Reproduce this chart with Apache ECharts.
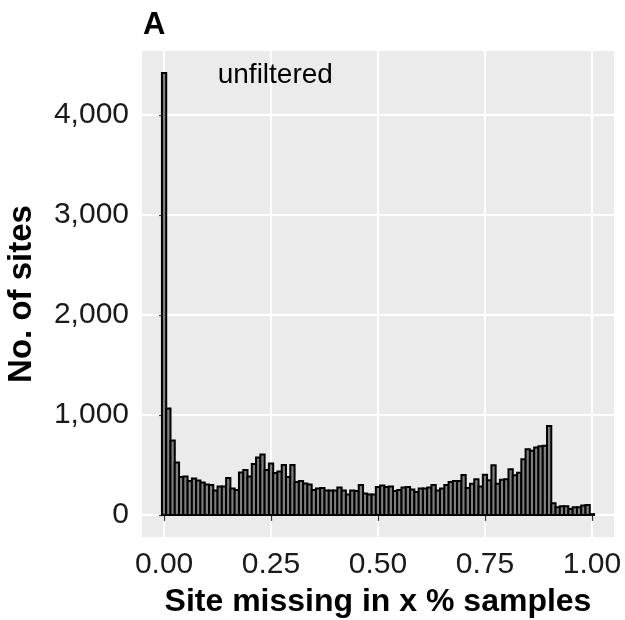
<!DOCTYPE html>
<html>
<head>
<meta charset="utf-8">
<script src="https://cdn.jsdelivr.net/npm/echarts@6/dist/echarts.min.js"></script>
<style>
  html, body { margin: 0; padding: 0; background: #fff; }
  #chart { width: 625px; height: 620px; }
</style>
</head>
<body>
<div id="chart"></div>
<script>
// histogram: share of samples in which a site is missing, bins of 0.01 centred on 0..1
var binWidth = 0.01;
var siteCounts = [
  4420, 1065, 745, 525, 380, 385, 340, 365, 345, 325,
  305, 300, 245, 285, 285, 370, 265, 250, 425, 450,
  385, 510, 575, 605, 450, 515, 420, 435, 500, 380,
  500, 330, 340, 315, 305, 250, 265, 270, 245, 245,
  245, 275, 245, 205, 245, 240, 300, 215, 205, 205,
  280, 295, 280, 285, 240, 250, 275, 280, 255, 228,
  265, 265, 275, 300, 245, 265, 300, 330, 340, 340,
  400, 268, 312, 356, 285, 403, 346, 497, 312, 352,
  356, 456, 396, 423, 557, 658, 641, 675, 688, 691,
  889, 117, 77, 87, 87, 60, 77, 77, 94, 100,
  8
];
var xTicks = [0, 0.25, 0.5, 0.75, 1];
var yTicks = [0, 1000, 2000, 3000, 4000];
var panelNote = { text: 'unfiltered', x: 0.26, y: 4400 };

var bars = siteCounts.map(function (n, i) { return [i * binWidth, n]; });

var font = 'Liberation Sans, Arial, Helvetica, sans-serif';
var myChart = echarts.init(document.getElementById('chart'));

var option = {
  backgroundColor: '#ffffff',
  animation: false,
  title: {
    text: 'A',
    left: 138,
    top: 5,
    textStyle: { fontFamily: font, fontSize: 31, fontWeight: 'bold', color: '#000' }
  },
  grid: {
    left: 142,
    right: 11,
    top: 51,
    bottom: 83,
    outerBoundsMode: 'none',
    containLabel: false,
    show: true,
    backgroundColor: '#ebebeb',
    borderWidth: 0
  },
  xAxis: {
    type: 'value',
    min: -0.0516,
    max: 1.0516,
    name: 'Site missing in x % samples',
    nameLocation: 'middle',
    nameGap: 49,
    nameTextStyle: { fontFamily: font, fontSize: 32, fontWeight: 'bold', color: '#000' },
    axisLine: { show: false },
    axisTick: {
      show: true, length: 6, customValues: xTicks,
      lineStyle: { color: '#333', width: 1.2 }
    },
    axisLabel: {
      customValues: xTicks,
      margin: 13,
      fontFamily: font, fontSize: 30, color: '#1a1a1a',
      formatter: function (v) { return v.toFixed(2); }
    },
    splitLine: { show: true, lineStyle: { color: '#fff', width: 2 } }
  },
  yAxis: {
    type: 'value',
    min: -221,
    max: 4641,
    name: 'No. of sites',
    nameLocation: 'middle',
    nameRotate: 90,
    nameGap: 104,
    nameTextStyle: { fontFamily: font, fontSize: 33, fontWeight: 'bold', color: '#000' },
    axisLine: { show: false },
    axisTick: {
      show: true, length: 5, customValues: yTicks,
      lineStyle: { color: '#333', width: 1.2 }
    },
    axisLabel: {
      customValues: yTicks,
      margin: 13,
      fontFamily: font, fontSize: 30, color: '#1a1a1a',
      formatter: function (v) { return v.toLocaleString('en-US'); }
    },
    splitLine: { show: true, lineStyle: { color: '#fff', width: 2 } }
  },
  series: [
    {
      type: 'custom',
      data: bars,
      renderItem: function (params, api) {
        var x = api.value(0), y = api.value(1);
        var p0 = api.coord([x - binWidth / 2, y]);
        var p1 = api.coord([x + binWidth / 2, 0]);
        return {
          type: 'rect',
          shape: { x: p0[0], y: p0[1], width: p1[0] - p0[0], height: p1[1] - p0[1] },
          style: { fill: '#7f7f7f', stroke: '#000', lineWidth: 2 }
        };
      }
    },
    {
      type: 'custom',
      data: [[panelNote.x, panelNote.y]],
      renderItem: function (params, api) {
        var p = api.coord([api.value(0), api.value(1)]);
        return {
          type: 'text',
          x: p[0], y: p[1],
          style: {
            text: panelNote.text, fontFamily: font, fontSize: 28,
            fill: '#000', align: 'center', verticalAlign: 'middle'
          }
        };
      }
    }
  ]
};
myChart.setOption(option);
</script>
</body>
</html>
